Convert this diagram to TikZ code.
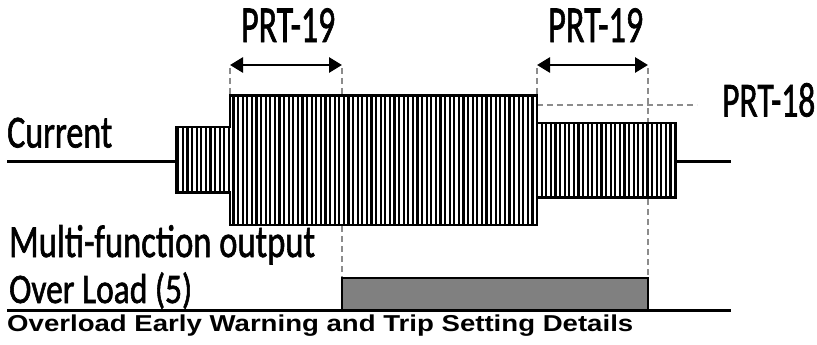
\documentclass[tikz,border=0pt]{standalone}
\usepackage{fontspec}
\usepackage{graphicx}
\setmainfont[FakeBold=1.6]{Carlito}
\newfontfamily\lblfont[FakeBold=1.6]{Carlito}
\newfontfamily\titlefont{Liberation Sans}
\usetikzlibrary{arrows.meta}
\newcommand\fitw[3]{\resizebox{#1}{\height}{\fontsize{#2}{#2}\selectfont #3}}
\begin{document}
\begin{tikzpicture}[x=1pt,y=-1pt,
  lbl/.style={inner sep=0pt, anchor=base west, font=\lblfont},
  dim/.style={line width=2.8pt, {Triangle[length=13pt,width=15pt]}-{Triangle[length=13pt,width=15pt]}},
  guide/.style={draw=black!45, line width=2pt, dash pattern=on 6pt off 4pt},
  axis/.style={line width=3pt},
  outline/.style={line width=2.5pt, line join=miter},
  hatch/.style={line width=2.3pt, black}]
\useasboundingbox (0,0) rectangle (817,345);
% coordinates
\coordinate (a1L) at (230,65);
\coordinate (a1R) at (342,65);
\coordinate (a2L) at (537,65);
\coordinate (a2R) at (648,65);
% guide lines
\draw[guide] (230,68) -- (230,95);
\draw[guide] (342,68) -- (342,95);
\draw[guide] (537,68) -- (537,95);
\draw[guide] (648,68) -- (648,123);
\draw[guide] (537,105) -- (697,105);
\draw[guide] (342,226) -- (342,278);
\draw[guide] (648,199) -- (648,278);
% hatched current envelope
\begin{scope}
\clip (176,127) -- (230,127) -- (230,95.7) -- (537,95.7) -- (537,123) -- (676,123) -- (676,197.7) -- (537,197.7) -- (537,225) -- (230,225) -- (230,192.7) -- (176,192.7) -- cycle;
\foreach \i in {0,...,110} {
  \draw[hatch] ({176+2.3+4.6*\i},90) -- ({176+2.3+4.6*\i},230);
}
\end{scope}
\draw[outline] (176,127) -- (230,127) -- (230,95.7) -- (537,95.7) -- (537,123) -- (676,123) -- (676,197.7) -- (537,197.7) -- (537,225) -- (230,225) -- (230,192.7) -- (176,192.7) -- cycle;
% current baseline
\draw[axis] (7,161.7) -- (176,161.7);
\draw[axis] (676,161.7) -- (731,161.7);
% dimension arrows
\draw[dim] (a1L) -- (a1R);
\draw[dim] (a2L) -- (a2R);
% output pulse
\draw[line width=2pt, fill=black!50] (342,310) -- (342,278) -- (648,278) -- (648,310);
\draw[axis] (7,310) -- (731,310);
% labels
\node[lbl] (prt19a) at (241,42) {\fitw{94pt}{52pt}{PRT-19}};
\node[lbl] (prt19b) at (548,42) {\fitw{95pt}{52pt}{PRT-19}};
\node[lbl] (prt18) at (722,116.5) {\fitw{93pt}{49pt}{PRT-18}};
\node[lbl] (cur) at (7,147.5) {\fitw{105pt}{46pt}{Current}};
\node[lbl] (mfo) at (9,257) {\fitw{306pt}{46pt}{Multi-function output}};
\node[lbl] (ol) at (9,303) {\fitw{183pt}{42pt}{Over Load (5)}};
\node[lbl] (title) at (7,331) {\fitw{626pt}{23pt}{\titlefont\bfseries Overload Early Warning and Trip Setting Details}};
\end{tikzpicture}
\end{document}
